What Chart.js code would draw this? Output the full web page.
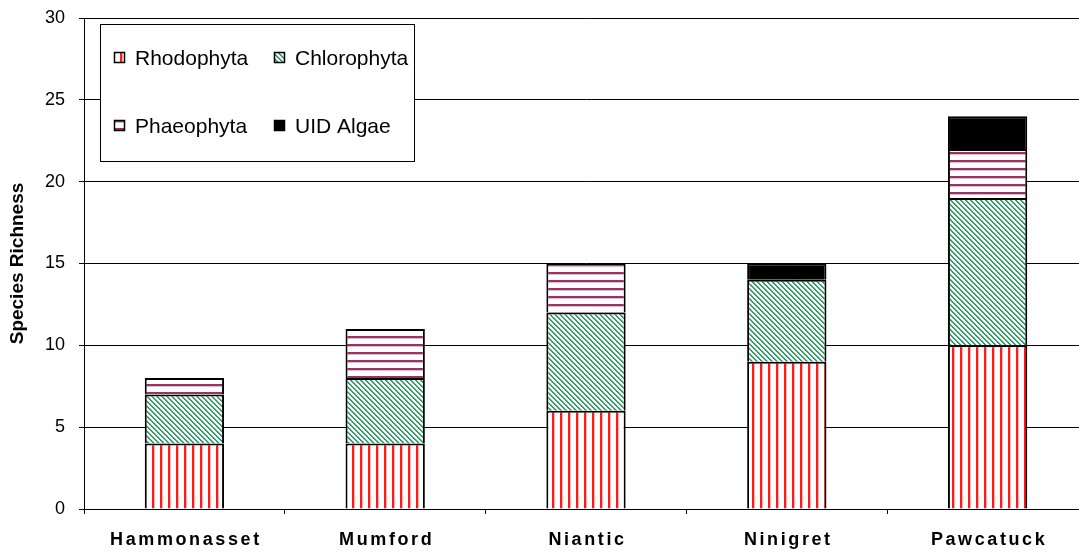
<!DOCTYPE html>
<html>
<head>
<meta charset="utf-8">
<title>Species Richness by Site</title>
<script src="https://cdn.jsdelivr.net/npm/chart.js@4/dist/chart.umd.min.js"></script>
<style>
  html, body { margin: 0; padding: 0; overflow: hidden; background: #ffffff; }
  #wrap { position: relative; width: 1088px; height: 556px; }
</style>
</head>
<body>
<div id="wrap"><canvas id="chart"></canvas></div>
<script>
// Sites along the x axis
const sites = ['Hammonasset', 'Mumford', 'Niantic', 'Ninigret', 'Pawcatuck'];

// Species counts per algal group at each site
const rhodophyta  = [4, 4, 6, 9, 10];
const chlorophyta = [3, 4, 6, 5, 9];
const phaeophyta  = [1, 3, 3, 0, 3];
const uidAlgae    = [0, 0, 0, 1, 2];

// Value axis ticks
const yTicks = [0, 5, 10, 15, 20, 25, 30];

const FONT = '"Liberation Sans", Arial, Helvetica, sans-serif';

// Hatch fills, built on small tiles
function makeTile(w, h, paint) {
  const c = document.createElement('canvas');
  c.width = w; c.height = h;
  const g = c.getContext('2d');
  g.fillStyle = '#ffffff';
  g.fillRect(0, 0, w, h);
  paint(g);
  return c;
}
const probe = document.createElement('canvas').getContext('2d');

const redStripes = probe.createPattern(makeTile(8, 8, g => {
  g.fillStyle = '#ff1a1a';
  g.fillRect(0, 0, 2, 8);
  g.fillStyle = '#ffb8b8';
  g.fillRect(2, 0, 1, 8);
}), 'repeat');

const greenDiagonal = probe.createPattern(makeTile(5, 5, g => {
  for (let y = 0; y < 5; y++) {
    g.fillStyle = '#3a9a6c';
    g.fillRect(y, y, 1, 1);
    g.fillRect((y + 1) % 5, y, 1, 1);
    g.fillStyle = '#d4ebe0';
    g.fillRect((y + 2) % 5, y, 1, 1);
  }
}), 'repeat');

const purpleLines = probe.createPattern(makeTile(8, 8, g => {
  g.fillStyle = '#993366';
  g.fillRect(0, 0, 8, 2);
  g.fillStyle = '#dcbccb';
  g.fillRect(0, 2, 8, 1);
}), 'repeat');

const groups = [
  { label: 'Rhodophyta',  values: rhodophyta,  fill: redStripes },
  { label: 'Chlorophyta', values: chlorophyta, fill: greenDiagonal },
  { label: 'Phaeophyta',  values: phaeophyta,  fill: purpleLines },
  { label: 'UID Algae',   values: uidAlgae,    fill: '#000000' }
];

// Boxed legend drawn inside the plot, two columns by two rows
const boxedLegend = {
  id: 'boxedLegend',
  afterDatasetsDraw(chart) {
    const ctx = chart.ctx;
    const box = { x: 100.5, y: 24.5, w: 314, h: 137 };
    ctx.save();
    ctx.fillStyle = '#ffffff';
    ctx.fillRect(box.x, box.y, box.w, box.h);
    ctx.strokeStyle = '#000000';
    ctx.lineWidth = 1;
    ctx.strokeRect(box.x, box.y, box.w, box.h);
    const cols = [114, 274];
    const rows = [58, 126];
    ctx.font = '21px ' + FONT;
    ctx.textBaseline = 'middle';
    ctx.textAlign = 'left';
    chart.data.datasets.forEach((ds, i) => {
      const mx = cols[i % 2];
      const my = rows[Math.floor(i / 2)];
      ctx.fillStyle = ds.backgroundColor;
      ctx.fillRect(mx, my - 6, 11, 11);
      ctx.strokeStyle = '#000000';
      ctx.lineWidth = 1.5;
      ctx.strokeRect(mx + 0.5, my - 5.5, 10, 10);
      ctx.fillStyle = '#000000';
      ctx.fillText(ds.label, mx + 21, my + 1);
    });
    ctx.restore();
  }
};

// Category labels with the wide letter spacing of the axis captions
const spacedCategoryLabels = {
  id: 'spacedCategoryLabels',
  afterDraw(chart) {
    const scale = chart.scales.x;
    const ctx = chart.ctx;
    ctx.save();
    ctx.font = 'bold 18px ' + FONT;
    ctx.fillStyle = '#000000';
    ctx.textAlign = 'center';
    ctx.textBaseline = 'middle';
    if ('letterSpacing' in ctx) ctx.letterSpacing = '2.6px';
    chart.data.labels.forEach((lab, i) => {
      ctx.fillText(lab, scale.getPixelForTick(i) + 1.5, scale.top + 31);
    });
    ctx.restore();
  }
};

new Chart(document.getElementById('chart'), {
  type: 'bar',
  data: {
    labels: sites,
    datasets: groups.map(gp => ({
      label: gp.label,
      data: gp.values,
      backgroundColor: gp.fill,
      borderColor: '#000000',
      borderWidth: 2,
      categoryPercentage: 1.0,
      barPercentage: 0.395
    }))
  },
  options: {
    responsive: true,
    maintainAspectRatio: false,
    animation: false,
    layout: { padding: { top: 18, right: 0, bottom: 0, left: 0 } },
    plugins: {
      legend: { display: false },
      tooltip: { enabled: false }
    },
    scales: {
      x: {
        stacked: true,
        afterFit(scale) { scale.height = 47; },
        grid: {
          display: true,
          drawOnChartArea: false,
          drawTicks: true,
          tickLength: 5,
          color: '#000000',
          lineWidth: 1
        },
        border: { display: true, color: '#000000', width: 1 },
        ticks: {
          color: 'rgba(0,0,0,0)',
          font: { family: FONT, size: 18, weight: 'bold' },
          maxRotation: 0,
          autoSkip: false
        }
      },
      y: {
        stacked: true,
        min: 0,
        max: 30,
        afterFit(scale) {
          scale.width = 84;
          scale.paddingTop = 0;
          scale.paddingBottom = 0;
        },
        afterBuildTicks(scale) { scale.ticks = yTicks.map(v => ({ value: v })); },
        grid: {
          color: '#000000',
          lineWidth: 1,
          drawTicks: true,
          tickLength: 5
        },
        border: { display: true, color: '#000000', width: 1 },
        ticks: {
          color: '#000000',
          padding: 14,
          font: { family: FONT, size: 18 }
        },
        title: {
          display: true,
          text: 'Species Richness',
          color: '#000000',
          font: { family: FONT, size: 19, weight: 'bold' },
          padding: { top: 6, bottom: 0 }
        }
      }
    }
  },
  plugins: [boxedLegend, spacedCategoryLabels]
});
</script>
</body>
</html>
